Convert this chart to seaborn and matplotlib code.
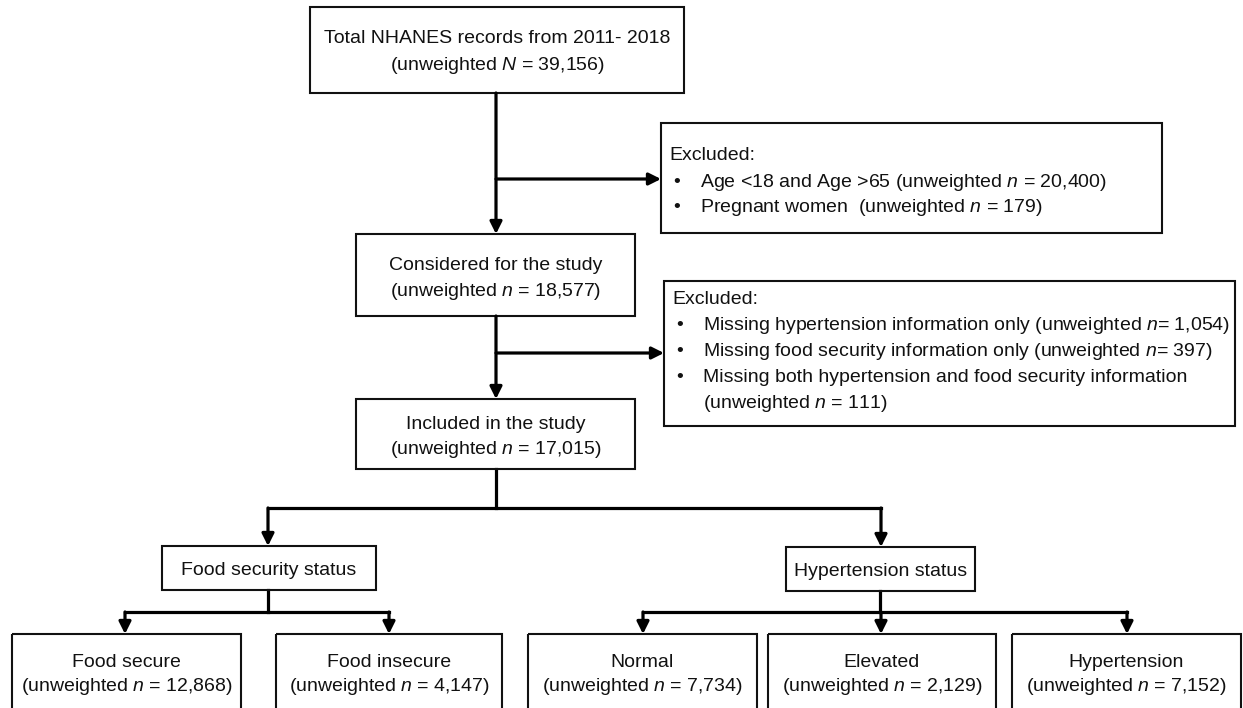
import matplotlib
matplotlib.use("Agg")
import matplotlib.pyplot as plt
from matplotlib.patches import Rectangle
import pandas as pd
import seaborn as sns

# -----------------------------
# Data (counts shown in the flow chart)
# -----------------------------
stage_labels = ["Total NHANES records from 2011- 2018", "Considered for the study", "Included in the study"]
stage_n = [39156, 18577, 17015]

excl1_items = ["Age <18 and Age >65", "Pregnant women "]
excl1_n = [20400, 179]

excl2_items = ["Missing hypertension information only",
               "Missing food security information only",
               "Missing both hypertension and food security information"]
excl2_n = [1054, 397, 111]

group_labels = ["Food security status", "Hypertension status"]
food_labels = ["Food secure", "Food insecure"]
food_n = [12868, 4147]
bp_labels = ["Normal", "Elevated", "Hypertension"]
bp_n = [7734, 2129, 7152]

# -----------------------------
# Layout (pixel space, y down)
# -----------------------------
stage_boxes = [(310, 7, 684, 93), (356, 234, 635, 316), (356, 399, 635, 469)]
excl1_box = (661, 123, 1162, 233)
excl2_box = (664, 281, 1235, 426)
group_boxes = [(162, 546, 376, 590), (786, 547, 975, 591)]
food_boxes = [(12, 634, 241, 730), (276, 634, 502, 730)]
bp_boxes = [(528, 634, 757, 730), (768, 634, 996, 730), (1012, 634, 1241, 730)]

FS = 14
LW_LINK = 2.3
LW_BOX = 1.5
DY = 2.5  # nudge so cap height sits centred like the reference

sns.set_theme(style="white")
plt.rcParams["font.family"] = ["Liberation Sans", "DejaVu Sans"]
plt.rcParams["mathtext.fontset"] = "custom"
plt.rcParams["mathtext.rm"] = "Liberation Sans"
plt.rcParams["mathtext.it"] = "Liberation Sans:italic"

fig = plt.figure(figsize=(12.43, 7.08), dpi=100)
ax = fig.add_axes([0, 0, 1, 1])


def box(b):
    x0, y0, x1, y1 = b
    ax.add_patch(Rectangle((x0, y0), x1 - x0, y1 - y0, fill=False,
                           edgecolor="#111111", lw=LW_BOX, zorder=2))


def label(x, y, s, ha="left"):
    ax.text(x, y + DY, s, ha=ha, va="center", fontsize=FS, color="#111111")


def centered(b, lines, y_lines):
    cx = (b[0] + b[2]) / 2
    for s, y in zip(lines, y_lines):
        label(cx, y, s, ha="center")


def arrow(x0, y0, x1, y1):
    ax.annotate("", xy=(x1, y1), xytext=(x0, y0),
                arrowprops=dict(arrowstyle="-|>,head_length=0.36,head_width=0.18",
                                lw=LW_LINK, color="black", mutation_scale=20,
                                shrinkA=0, shrinkB=0), zorder=3)


def unw(n, sym="n", eq=" = "):
    return f"(unweighted ${sym}${eq}{n:,})"


# -----------------------------
# Connector segments (no arrow head) drawn with seaborn
# -----------------------------
seg_x = [[496, 496], [268, 881], [268, 268], [125, 389], [880, 880], [643, 1127]]
seg_y = [[469, 508], [508, 508], [590, 612], [612, 612], [591, 612], [612, 612]]
links = pd.DataFrame({
    "x": sum(seg_x, []),
    "y": sum(seg_y, []),
    "seg": [i for i in range(len(seg_x)) for _ in range(2)],
})
sns.lineplot(data=links, x="x", y="y", units="seg", estimator=None, sort=False,
             color="black", lw=LW_LINK, solid_capstyle="projecting", ax=ax)

# arrows
arrow(496, 93, 496, 234)
arrow(496, 179, 661, 179)
arrow(496, 316, 496, 399)
arrow(496, 353, 664, 353)
arrow(268, 508, 268, 546)
arrow(881, 508, 881, 547)
arrow(125, 612, 125, 634)
arrow(389, 612, 389, 634)
for xa in [643, 881, 1127]:
    arrow(xa, 612, xa, 634)

# -----------------------------
# Boxes and text
# -----------------------------
stage_y = [(36, 63), (263, 289), (422, 447)]
for i, b in enumerate(stage_boxes):
    box(b)
    sym = "N" if i == 0 else "n"
    centered(b, [stage_labels[i], unw(stage_n[i], sym)], stage_y[i])

# exclusion box 1
box(excl1_box)
label(669, 153, "Excluded:")
for item, n, y in zip(excl1_items, excl1_n, [180, 205]):
    label(673, y, "\u2022")
    label(700, y, f"{item} {unw(n)}")

# exclusion box 2
box(excl2_box)
label(672, 297, "Excluded:")
excl2_text = [f"{excl2_items[0]} {unw(excl2_n[0], eq='= ')}",
              f"{excl2_items[1]} {unw(excl2_n[1], eq='= ')}",
              excl2_items[2]]
for s, y in zip(excl2_text, [323, 349, 375]):
    label(676, y, "\u2022")
    label(703, y, s)
label(703, 401, unw(excl2_n[2]))

# group headers
for b, lab in zip(group_boxes, group_labels):
    box(b)
    centered(b, [lab], [(b[1] + b[3]) / 2])

# outcome boxes
for b, lab, n in zip(food_boxes + bp_boxes, food_labels + bp_labels, food_n + bp_n):
    box(b)
    centered(b, [lab, unw(n)], [660, 684])

ax.set_xlim(0, 1243)
ax.set_ylim(708, 0)
ax.axis("off")

fig.savefig("out.png", dpi=100, facecolor="white")
